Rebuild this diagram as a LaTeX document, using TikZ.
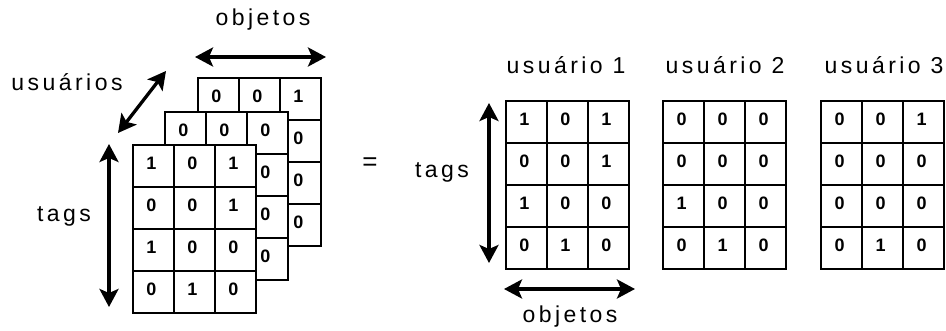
\documentclass[tikz,border=0pt]{standalone}
\usepackage{fontspec}
\setmainfont{Liberation Sans}
\newfontfamily\spacedfont[LetterSpace=15]{Liberation Sans}
\usetikzlibrary{arrows.meta}

\tikzset{
  cell/.style={draw, line width=1.6pt, fill=white,
    minimum width=41pt, minimum height=42pt, inner sep=0pt, outer sep=0pt,
    font=\fontsize{18}{20}\selectfont\bfseries, text depth=5pt,
    execute at begin node={\kern-4pt}},
  frame/.style={draw, line width=2.3pt},
  lbl/.style={font=\fontsize{23}{26}\selectfont\spacedfont, anchor=base, inner sep=0pt},
  dbl/.style={line width=3.3pt,
    {Stealth[length=18pt, width=19pt, inset=4pt]}-{Stealth[length=18pt, width=19pt, inset=4pt]}},
}

% a 4x3 grid of cells whose top-left corner is at (#2,#3);
% cells given as {} stay blank (they sit behind another slice)
\newcommand\cellgrid[4]{%
  \foreach \row [count=\r] in {#4} {
    \foreach \v [count=\c] in \row {
      \node[cell] (#1-\r-\c) at ({#2+(\c-0.5)*41}, {#3+(\r-0.5)*42}) {\v};
    }
  }
  \draw[frame] (#1-1-1.north west) rectangle (#1-4-3.south east);
}

\begin{document}
\begin{tikzpicture}[x=1pt, y=-1pt]
  \useasboundingbox (0,0) rectangle (946,331);

  % stacked tensor: one slice per user, back to front
  \cellgrid{back}{198}{78}{{0,0,1},{{},{},0},{{},{},0},{{},{},0}}
  \cellgrid{mid}{165}{112}{{0,0,0},{{},{},0},{{},{},0},{{},{},0}}
  \cellgrid{front}{133}{145}{{1,0,1},{0,0,1},{1,0,0},{0,1,0}}

  % axes of the tensor
  \coordinate (objL) at (195,57);
  \coordinate (objR) at (326,57);
  \coordinate (usrA) at (118,133);
  \coordinate (usrB) at (166,71);
  \coordinate (tagT) at (109,144);
  \coordinate (tagB) at (109,307);
  \draw[dbl] (objL) -- (objR);
  \draw[dbl] (usrA) -- (usrB);
  \draw[dbl] (tagT) -- (tagB);

  \node[lbl] (lobj) at (263,26) {objetos};
  \node[lbl] (lusr) at (67,91) {usuários};
  \node[lbl] (ltag) at (64,222) {tags};

  \node[font=\fontsize{26}{28}\selectfont, inner sep=0pt] (eq) at (370,164) {=};

  % the slices side by side
  \cellgrid{u1}{506}{101}{{1,0,1},{0,0,1},{1,0,0},{0,1,0}}
  \cellgrid{u2}{663}{101}{{0,0,0},{0,0,0},{1,0,0},{0,1,0}}
  \cellgrid{u3}{821}{101}{{0,0,1},{0,0,0},{0,0,0},{0,1,0}}

  \node[lbl] (lu1) at (566,74) {usuário 1};
  \node[lbl] (lu2) at (725,74) {usuário 2};
  \node[lbl] (lu3) at (884,74) {usuário 3};

  \coordinate (tag2T) at (489,103);
  \coordinate (tag2B) at (489,263);
  \coordinate (obj2L) at (504,289);
  \coordinate (obj2R) at (635,289);
  \draw[dbl] (tag2T) -- (tag2B);
  \draw[dbl] (obj2L) -- (obj2R);

  \node[lbl] (ltag2) at (442,178) {tags};
  \node[lbl] (lobj2) at (570,323) {objetos};
\end{tikzpicture}
\end{document}
